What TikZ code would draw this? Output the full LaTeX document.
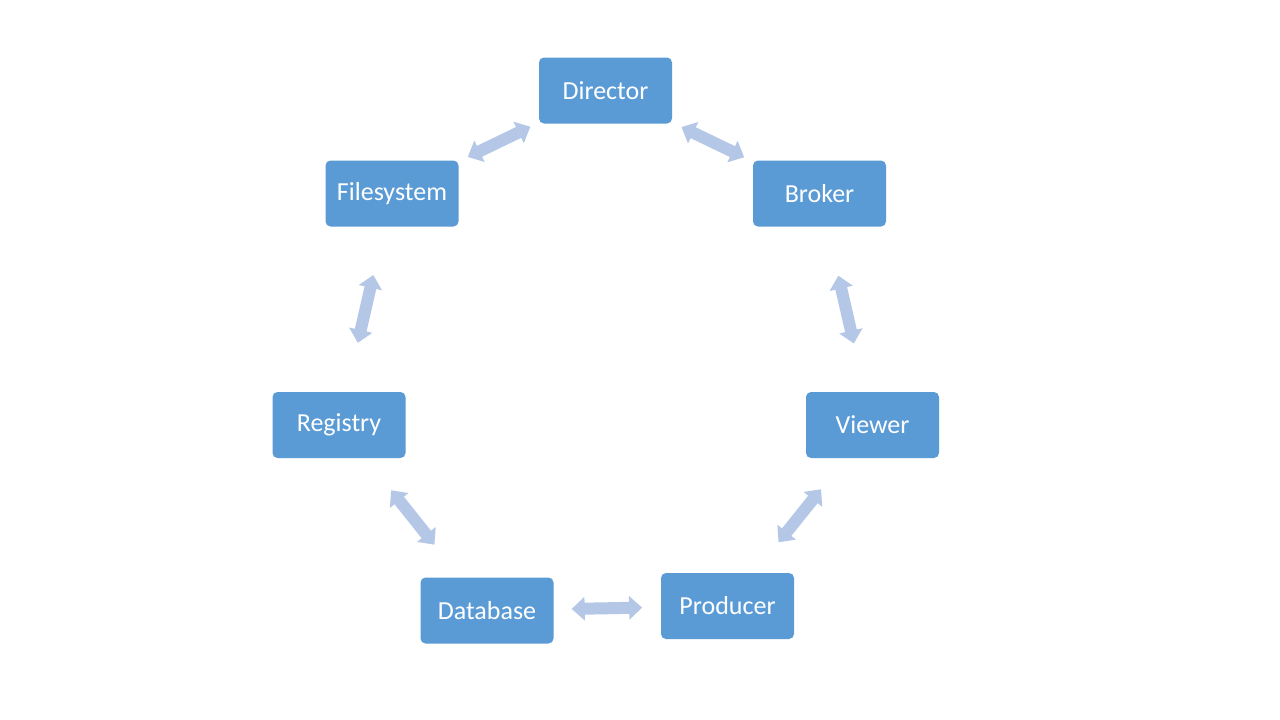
\documentclass[tikz,border=0pt]{standalone}
\usepackage{fontspec}
\setmainfont{Carlito}
\usetikzlibrary{arrows.meta,calc}
\definecolor{boxblue}{HTML}{5B9BD5}
\definecolor{arrowblue}{HTML}{B4C7E7}
\tikzset{
  box/.style={fill=boxblue, draw=none, rounded corners=5pt, minimum width=133pt, minimum height=66pt,
    text=white, font=\fontsize{26}{30}\selectfont, inner sep=0pt},
  biarrow/.style={draw=arrowblue, line width=12pt,
    {Triangle[width=23pt,length=13pt]}-{Triangle[width=23pt,length=13pt]}}
}
\begin{document}
\begin{tikzpicture}[x=1pt,y=-1pt]
\useasboundingbox[fill=white] (0,0) rectangle (1280,720);
\node[box] (dir) at (605.5,90.5) {Director};
\node[box] (fs)  at (392,193.5) {Filesystem};
\node[box] (brk) at (819.5,193.5) {Broker};
\node[box] (reg) at (339,425) {Registry};
\node[box] (vw)  at (872.5,425) {Viewer};
\node[box] (db)  at (487,610.5) {Database};
\node[box] (prd) at (727.5,606) {Producer};
\draw[biarrow] ($(fs)!0.355!(dir)$) -- ($(fs)!0.648!(dir)$);
\draw[biarrow] ($(dir)!0.355!(brk)$) -- ($(dir)!0.648!(brk)$);
\draw[biarrow] ($(brk)!0.355!(vw)$) -- ($(brk)!0.648!(vw)$);
\draw[biarrow] ($(vw)!0.355!(prd)$) -- ($(vw)!0.648!(prd)$);
\draw[biarrow] ($(prd)!0.355!(db)$) -- ($(prd)!0.648!(db)$);
\draw[biarrow] ($(db)!0.355!(reg)$) -- ($(db)!0.648!(reg)$);
\draw[biarrow] ($(reg)!0.355!(fs)$) -- ($(reg)!0.648!(fs)$);
\end{tikzpicture}
\end{document}
